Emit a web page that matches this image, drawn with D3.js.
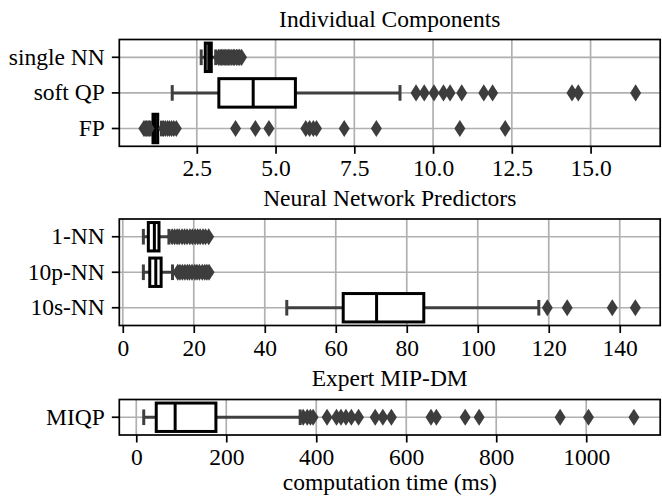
<!DOCTYPE html>
<html>
<head>
<meta charset="utf-8">
<script src="https://cdn.jsdelivr.net/npm/d3@7"></script>
<style>
  html, body { margin: 0; padding: 0; background: #fff; }
  svg { display: block; }
  text { font-family: "Liberation Serif", "Times New Roman", serif; fill: #000; }
</style>
</head>
<body>
<svg id="chart" width="662" height="498"></svg>
<script>
// ---- Individual Components (ms) ----
const compCategories = ["single NN", "soft QP", "FP"];
const compQ1 = [2.77, 3.20, 1.11];
const compMedian = [2.88, 4.29, 1.18];
const compQ3 = [2.96, 5.63, 1.26];
const compWhiskerLow = [2.64, 1.72, 1.02];
const compWhiskerHigh = [3.10, 8.95, 1.38];
const compOutliers = [
  [3.19, 3.24, 3.28, 3.33, 3.37, 3.42, 3.46, 3.51, 3.55, 3.61, 3.66, 3.70, 3.76, 3.81, 3.86, 3.92],
  [9.46, 9.72, 10.03, 10.33, 10.54, 10.91, 11.61, 11.89, 14.41, 14.61, 16.43],
  [0.82, 0.86, 0.90, 0.95, 0.99, 1.44, 1.50, 1.57, 1.63, 1.70, 1.77, 1.85,
   3.73, 4.36, 4.79, 5.96, 6.08, 6.20, 6.30, 7.18, 8.20, 10.85, 12.29]
];
const compTicks = [2.5, 5.0, 7.5, 10.0, 12.5, 15.0];

// ---- Neural Network Predictors (ms) ----
const nnCategories = ["1-NN", "10p-NN", "10s-NN"];
const nnQ1 = [7.2, 7.6, 62.1];
const nnMedian = [8.9, 9.3, 71.5];
const nnQ3 = [10.2, 10.8, 84.8];
const nnWhiskerLow = [5.8, 5.8, 46.2];
const nnWhiskerHigh = [13.0, 14.0, 117.2];
const nnOutliers = [
  [13.9, 14.6, 15.3, 15.9, 16.7, 17.4, 18.1, 18.9, 19.6, 20.4, 21.1, 21.8, 22.6, 23.3, 24.2],
  [15.5, 16.1, 16.8, 17.5, 18.2, 18.8, 19.5, 20.3, 20.9, 21.6, 22.4, 23.1, 23.7, 24.3],
  [119.6, 125.2, 137.9, 144.4]
];
const nnTicks = [0, 20, 40, 60, 80, 100, 120, 140];

// ---- Expert MIP-DM (ms) ----
const mipCategories = ["MIQP"];
const mipQ1 = [44.4];
const mipMedian = [86.4];
const mipQ3 = [177];
const mipWhiskerLow = [16.6];
const mipWhiskerHigh = [364.3];
const mipOutliers = [
  [371, 380, 387, 393, 424, 445, 455, 466, 478, 494, 531, 548, 567,
   655, 667, 731, 762, 942, 1005, 1106]
];
const mipTicks = [0, 200, 400, 600, 800, 1000];

const titles = ["Individual Components", "Neural Network Predictors", "Expert MIP-DM"];
const xLabel = "computation time (ms)";

// ---- layout ----
const svg = d3.select("#chart");
const left = 119.3, right = 660.2;
const FONT = 23.5;
const BOX_LW = 3, WHISK_COLOR = "#3f3f3f", FLIER_COLOR = "#3d3d3d";
const GRID_COLOR = "#b0b0b0";

function rows(cats, q1, med, q3, wlo, whi, out) {
  return cats.map((c, i) => ({ cat: c, q1: q1[i], med: med[i], q3: q3[i], wlo: wlo[i], whi: whi[i], out: out[i] }));
}

const panels = [
  { title: titles[0], top: 39.5, bottom: 146.3, titleY: 26.5, domain: [0.04, 17.21], ticks: compTicks, fmt: d3.format(".1f"),
    data: rows(compCategories, compQ1, compMedian, compQ3, compWhiskerLow, compWhiskerHigh, compOutliers) },
  { title: titles[1], top: 219, bottom: 325.5, titleY: 206, domain: [-0.98, 151.4], ticks: nnTicks, fmt: d3.format("d"),
    data: rows(nnCategories, nnQ1, nnMedian, nnQ3, nnWhiskerLow, nnWhiskerHigh, nnOutliers) },
  { title: titles[2], top: 399.5, bottom: 435, titleY: 386, domain: [-37.7, 1164.4], ticks: mipTicks, fmt: d3.format("d"),
    data: rows(mipCategories, mipQ1, mipMedian, mipQ3, mipWhiskerLow, mipWhiskerHigh, mipOutliers) }
];

// thin diamond flier marker
const dW = 5.5, dH = 8.6;
const diamond = `M0,${-dH}L${dW},0L0,${dH}L${-dW},0Z`;

panels.forEach(p => {
  const x = d3.scaleLinear().domain(p.domain).range([left, right]);
  const y = d3.scaleBand().domain(p.data.map(d => d.cat)).range([p.top, p.bottom]);
  const bw = y.bandwidth();
  const boxH = bw * 0.8;
  const capH = boxH * 0.55;
  const g = svg.append("g");

  // grid
  const grid = g.append("g");
  grid.selectAll("line.vg").data(p.ticks).join("line")
    .attr("x1", d => x(d)).attr("x2", d => x(d))
    .attr("y1", p.top).attr("y2", p.bottom)
    .attr("stroke", GRID_COLOR).attr("stroke-width", 1.7);
  grid.selectAll("line.hg").data(p.data).join("line")
    .attr("x1", left).attr("x2", right)
    .attr("y1", d => y(d.cat) + bw / 2).attr("y2", d => y(d.cat) + bw / 2)
    .attr("stroke", GRID_COLOR).attr("stroke-width", 1.7);

  // boxes
  const b = g.selectAll("g.box").data(p.data).join("g").attr("class", "box")
    .attr("transform", d => `translate(0,${y(d.cat) + bw / 2})`);
  b.append("line").attr("x1", d => x(d.wlo)).attr("x2", d => x(d.q1))
    .attr("stroke", WHISK_COLOR).attr("stroke-width", BOX_LW);
  b.append("line").attr("x1", d => x(d.q3)).attr("x2", d => x(d.whi))
    .attr("stroke", WHISK_COLOR).attr("stroke-width", BOX_LW);
  b.append("line").attr("x1", d => x(d.wlo)).attr("x2", d => x(d.wlo))
    .attr("y1", -capH / 2).attr("y2", capH / 2)
    .attr("stroke", WHISK_COLOR).attr("stroke-width", BOX_LW);
  b.append("line").attr("x1", d => x(d.whi)).attr("x2", d => x(d.whi))
    .attr("y1", -capH / 2).attr("y2", capH / 2)
    .attr("stroke", WHISK_COLOR).attr("stroke-width", BOX_LW);
  b.append("rect").attr("x", d => x(d.q1)).attr("width", d => x(d.q3) - x(d.q1))
    .attr("y", -boxH / 2).attr("height", boxH)
    .attr("fill", "#fff").attr("stroke", "#000").attr("stroke-width", BOX_LW);
  b.append("line").attr("x1", d => x(d.med)).attr("x2", d => x(d.med))
    .attr("y1", -boxH / 2).attr("y2", boxH / 2)
    .attr("stroke", "#000").attr("stroke-width", BOX_LW);
  b.selectAll("path.flier").data(d => d.out).join("path").attr("class", "flier")
    .attr("d", diamond).attr("transform", v => `translate(${x(v)},0)`)
    .attr("fill", FLIER_COLOR);

  // frame
  g.append("rect").attr("x", left).attr("y", p.top)
    .attr("width", right - left).attr("height", p.bottom - p.top)
    .attr("fill", "none").attr("stroke", "#000").attr("stroke-width", 1.7);

  // axes
  const xa = g.append("g").attr("transform", `translate(0,${p.bottom})`)
    .call(d3.axisBottom(x).tickValues(p.ticks).tickFormat(p.fmt).tickSize(7.5).tickPadding(6));
  const ya = g.append("g").attr("transform", `translate(${left},0)`)
    .call(d3.axisLeft(y).tickSize(7.5).tickPadding(7));
  [xa, ya].forEach(a => {
    a.select(".domain").remove();
    a.selectAll(".tick line").attr("stroke", "#000").attr("stroke-width", 1.7);
    a.selectAll("text").style("font-family", '"Liberation Serif", serif').style("font-size", FONT + "px").attr("fill", "#000");
  });

  // title
  g.append("text").attr("x", (left + right) / 2).attr("y", p.titleY)
    .attr("text-anchor", "middle").style("font-size", FONT + "px").text(p.title);
});

svg.append("text").attr("x", (left + right) / 2).attr("y", 490)
  .attr("text-anchor", "middle").style("font-size", FONT + "px").text(xLabel);
</script>
</body>
</html>
